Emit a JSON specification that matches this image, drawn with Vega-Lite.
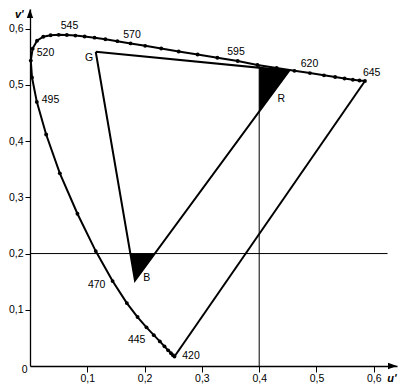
{
  "$schema": "https://vega.github.io/schema/vega-lite/v6.json",
  "width": 367,
  "height": 357,
  "autosize": {"type": "none"},
  "padding": {"left": 30, "top": 9, "right": 5, "bottom": 25},
  "background": "white",
  "config": {"view": {"stroke": null}, "font": "Liberation Sans"},
  "datasets": {
    "locus": [
      {"wl": 420, "u": 0.2522, "v": 0.0169}, {"wl": 425, "u": 0.2496, "v": 0.0191},
      {"wl": 430, "u": 0.2461, "v": 0.0226}, {"wl": 435, "u": 0.2411, "v": 0.0279},
      {"wl": 440, "u": 0.2347, "v": 0.0350}, {"wl": 445, "u": 0.2266, "v": 0.0437},
      {"wl": 450, "u": 0.2161, "v": 0.0549}, {"wl": 455, "u": 0.2033, "v": 0.0688},
      {"wl": 460, "u": 0.1877, "v": 0.0871}, {"wl": 465, "u": 0.1690, "v": 0.1119},
      {"wl": 470, "u": 0.1441, "v": 0.1510}, {"wl": 475, "u": 0.1147, "v": 0.2044},
      {"wl": 480, "u": 0.0828, "v": 0.2708}, {"wl": 485, "u": 0.0521, "v": 0.3427},
      {"wl": 490, "u": 0.0282, "v": 0.4117}, {"wl": 495, "u": 0.0119, "v": 0.4698},
      {"wl": 500, "u": 0.0035, "v": 0.5131}, {"wl": 505, "u": 0.0014, "v": 0.5432},
      {"wl": 510, "u": 0.0046, "v": 0.5645}, {"wl": 515, "u": 0.0123, "v": 0.5785},
      {"wl": 520, "u": 0.0231, "v": 0.5857}, {"wl": 525, "u": 0.0360, "v": 0.5883},
      {"wl": 530, "u": 0.0501, "v": 0.5890}, {"wl": 535, "u": 0.0643, "v": 0.5887},
      {"wl": 540, "u": 0.0792, "v": 0.5877}, {"wl": 545, "u": 0.0953, "v": 0.5861},
      {"wl": 550, "u": 0.1127, "v": 0.5840}, {"wl": 555, "u": 0.1315, "v": 0.5812},
      {"wl": 560, "u": 0.1525, "v": 0.5778}, {"wl": 565, "u": 0.1755, "v": 0.5738},
      {"wl": 570, "u": 0.2010, "v": 0.5695}, {"wl": 575, "u": 0.2290, "v": 0.5648},
      {"wl": 580, "u": 0.2595, "v": 0.5594}, {"wl": 585, "u": 0.2925, "v": 0.5540},
      {"wl": 590, "u": 0.3270, "v": 0.5482}, {"wl": 595, "u": 0.3625, "v": 0.5425},
      {"wl": 600, "u": 0.3970, "v": 0.5355}, {"wl": 605, "u": 0.4305, "v": 0.5300},
      {"wl": 610, "u": 0.4615, "v": 0.5250}, {"wl": 615, "u": 0.4885, "v": 0.5210},
      {"wl": 620, "u": 0.5130, "v": 0.5170}, {"wl": 625, "u": 0.5325, "v": 0.5140},
      {"wl": 630, "u": 0.5490, "v": 0.5113}, {"wl": 635, "u": 0.5635, "v": 0.5092},
      {"wl": 640, "u": 0.5750, "v": 0.5078}, {"wl": 645, "u": 0.5846, "v": 0.5069}
    ],
    "refs": [
      {"u": 0.4, "v": 0, "u2": 0.4, "v2": 0.535},
      {"u": 0, "v": 0.2, "u2": 0.624, "v2": 0.2}
    ],
    "purple": [
      {"u": 0.5846, "v": 0.5069, "u2": 0.2522, "v2": 0.0169}
    ],
    "rfill": [
      {"u": 0.4, "v": 0.5305, "v2": 0.4525},
      {"u": 0.4525, "v": 0.5253, "v2": 0.5253}
    ],
    "bfill": [
      {"u": 0.1751, "v": 0.2, "v2": 0.2},
      {"u": 0.1832, "v": 0.2, "v2": 0.1521},
      {"u": 0.2178, "v": 0.2, "v2": 0.2}
    ],
    "tri": [
      {"i": 0, "u": 0.1147, "v": 0.559},
      {"i": 1, "u": 0.4525, "v": 0.5253},
      {"i": 2, "u": 0.1832, "v": 0.1521},
      {"i": 3, "u": 0.1147, "v": 0.559}
    ],
    "labels": [
      {"t": "545", "u": 0.0689, "v": 0.6039},
      {"t": "570", "u": 0.1780, "v": 0.5888},
      {"t": "595", "u": 0.3595, "v": 0.5585},
      {"t": "620", "u": 0.4878, "v": 0.5372},
      {"t": "645", "u": 0.5963, "v": 0.5212},
      {"t": "520", "u": 0.0271, "v": 0.5567},
      {"t": "495", "u": 0.0358, "v": 0.4726},
      {"t": "470", "u": 0.1164, "v": 0.1432},
      {"t": "445", "u": 0.1862, "v": 0.0468},
      {"t": "420", "u": 0.2810, "v": 0.0183},
      {"t": "G", "u": 0.1030, "v": 0.5478},
      {"t": "R", "u": 0.4386, "v": 0.4749},
      {"t": "B", "u": 0.2037, "v": 0.1571},
      {"t": "0", "u": -0.0092, "v": -0.008}
    ],
    "titles": [
      {"t": "u'", "u": 0.6318, "v": -0.0231},
      {"t": "v'", "u": -0.0187, "v": 0.6243}
    ],
    "arrowTop": [{"u": 0, "v": 0.635}],
    "arrowRight": [{"u": 0.6405, "v": 0}]
  },
  "encoding": {
    "x": {
      "field": "u", "type": "quantitative",
      "scale": {"domain": [0, 0.6405], "nice": false, "zero": false},
      "axis": {
        "values": [0.1, 0.2, 0.3, 0.4, 0.5, 0.6], "format": ".1f",
        "labelExpr": "replace(datum.label, '.', ',')",
        "grid": false, "title": null,
        "domainColor": "black", "domainWidth": 1.3,
        "tickColor": "black", "tickSize": 6, "tickWidth": 1,
        "labelColor": "black", "labelFontSize": 10.5, "labelFont": "Liberation Sans",
        "labelPadding": 1, "labelFlush": false, "labelOverlap": false
      }
    },
    "y": {
      "field": "v", "type": "quantitative",
      "scale": {"domain": [0, 0.635], "nice": false, "zero": false},
      "axis": {
        "values": [0.1, 0.2, 0.3, 0.4, 0.5, 0.6], "format": ".1f",
        "labelExpr": "replace(datum.label, '.', ',')",
        "grid": false, "title": null,
        "domainColor": "black", "domainWidth": 1.3,
        "tickColor": "black", "tickSize": 5, "tickWidth": 1,
        "labelColor": "black", "labelFontSize": 10.5, "labelFont": "Liberation Sans",
        "labelPadding": 2, "labelFlush": false, "labelOverlap": false
      }
    }
  },
  "layer": [
    {
      "data": {"name": "refs"},
      "mark": {"type": "rule", "color": "black", "strokeWidth": 1},
      "encoding": {"x2": {"field": "u2"}, "y2": {"field": "v2"}}
    },
    {
      "data": {"name": "rfill"},
      "mark": {"type": "area", "color": "black", "opacity": 1},
      "encoding": {"y2": {"field": "v2"}}
    },
    {
      "data": {"name": "bfill"},
      "mark": {"type": "area", "color": "black", "opacity": 1},
      "encoding": {"y2": {"field": "v2"}}
    },
    {
      "data": {"name": "tri"},
      "mark": {"type": "line", "color": "black", "strokeWidth": 2, "strokeJoin": "miter"},
      "encoding": {"order": {"field": "i", "type": "quantitative"}}
    },
    {
      "data": {"name": "purple"},
      "mark": {"type": "rule", "color": "black", "strokeWidth": 2},
      "encoding": {"x2": {"field": "u2"}, "y2": {"field": "v2"}}
    },
    {
      "data": {"name": "locus"},
      "mark": {"type": "line", "color": "black", "strokeWidth": 2,
               "point": {"filled": true, "size": 15, "color": "black", "opacity": 1}},
      "encoding": {"order": {"field": "wl", "type": "quantitative"}}
    },
    {
      "data": {"name": "labels"},
      "mark": {"type": "text", "color": "black", "fontSize": 10.5, "font": "Liberation Sans",
               "align": "center", "baseline": "middle"},
      "encoding": {"text": {"field": "t"}}
    },
    {
      "data": {"name": "titles"},
      "mark": {"type": "text", "color": "black", "fontSize": 11, "font": "Liberation Sans",
               "fontStyle": "italic", "fontWeight": "bold", "align": "center", "baseline": "middle"},
      "encoding": {"text": {"field": "t"}}
    },
    {
      "data": {"name": "arrowTop"},
      "mark": {"type": "point", "shape": "M0,0L0.35,1L-0.35,1Z", "size": 324,
               "filled": true, "color": "black", "opacity": 1}
    },
    {
      "data": {"name": "arrowRight"},
      "mark": {"type": "point", "shape": "M0,0L-1,-0.35L-1,0.35Z", "size": 324,
               "filled": true, "color": "black", "opacity": 1}
    }
  ]
}
